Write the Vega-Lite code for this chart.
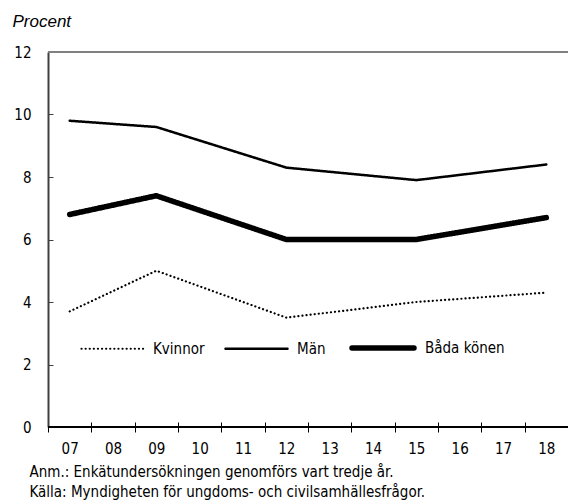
{
  "$schema": "https://vega.github.io/schema/vega-lite/v6.json",
  "width": 520,
  "height": 375,
  "autosize": "none",
  "padding": {"left": 48, "top": 52, "right": 0, "bottom": 77},
  "background": "white",
  "config": {
    "view": {"stroke": null},
    "font": "DejaVu Sans Condensed",
    "axis": {"labelFont": "DejaVu Sans Condensed", "titleFont": "DejaVu Sans Condensed", "labelColor": "black", "titleColor": "black", "grid": false},
    "legend": {"labelFont": "DejaVu Sans Condensed"}
  },
  "data": {
    "values": [
      {"year": "07", "serie": "Kvinnor", "value": 3.7},
      {"year": "09", "serie": "Kvinnor", "value": 5.0},
      {"year": "12", "serie": "Kvinnor", "value": 3.5},
      {"year": "15", "serie": "Kvinnor", "value": 4.0},
      {"year": "18", "serie": "Kvinnor", "value": 4.3},
      {"year": "07", "serie": "Män", "value": 9.8},
      {"year": "09", "serie": "Män", "value": 9.6},
      {"year": "12", "serie": "Män", "value": 8.3},
      {"year": "15", "serie": "Män", "value": 7.9},
      {"year": "18", "serie": "Män", "value": 8.4},
      {"year": "07", "serie": "Båda könen", "value": 6.8},
      {"year": "09", "serie": "Båda könen", "value": 7.4},
      {"year": "12", "serie": "Båda könen", "value": 6.0},
      {"year": "15", "serie": "Båda könen", "value": 6.0},
      {"year": "18", "serie": "Båda könen", "value": 6.7}
    ]
  },
  "layer": [
    {
      "mark": {"type": "rule", "color": "#808080", "strokeWidth": 2},
      "encoding": {"y": {"datum": 12, "type": "quantitative"}}
    },
    {
      "mark": {"type": "rule", "color": "black", "strokeWidth": 1.5},
      "encoding": {"y": {"datum": 0, "type": "quantitative"}}
    },
    {
      "mark": {"type": "line", "color": "black", "strokeCap": "round", "strokeJoin": "miter"},
      "encoding": {
        "x": {
          "field": "year",
          "type": "ordinal",
          "scale": {"type": "band", "domain": ["07","08","09","10","11","12","13","14","15","16","17","18"], "paddingInner": 0, "paddingOuter": 0},
          "axis": {
            "title": ["Anm.: Enkätundersökningen genomförs vart tredje år.", "Källa: Myndigheten för ungdoms- och civilsamhällesfrågor."],
            "titleFontSize": 15,
            "titleFontWeight": "normal",
            "titleAlign": "left",
            "titleAnchor": "start",
            "titleBaseline": "alphabetic",
            "titleX": -19,
            "titleY": 54,
            "titleLineHeight": 20,
            "offset": -5,
            "domain": false,
            "labelAngle": 0,
            "labelFontSize": 15,
            "labelPadding": 9,
            "tickBand": "extent",
            "tickSize": 10,
            "tickColor": "black",
            "tickWidth": 1
          }
        },
        "y": {
          "field": "value",
          "type": "quantitative",
          "scale": {"domain": [0, 12], "nice": false},
          "axis": {
            "values": [0, 2, 4, 6, 8, 10, 12],
            "title": "Procent",
            "titleFont": "Liberation Sans",
            "titleFontStyle": "italic",
            "titleFontWeight": "normal",
            "titleFontSize": 17,
            "titleAngle": 0,
            "titleAlign": "left",
            "titleBaseline": "alphabetic",
            "titleX": -36,
            "titleY": -26,
            "labelFontSize": 15,
            "labelPadding": 22,
            "tickSize": -5,
            "tickColor": "#404040",
            "domainColor": "#404040",
            "domainWidth": 2
          }
        },
        "strokeDash": {
          "field": "serie",
          "type": "nominal",
          "scale": {"domain": ["Kvinnor", "Män", "Båda könen"], "range": [[0.1, 4], [1, 0], [1, 0]]},
          "legend": {
            "title": null,
            "orient": "none",
            "direction": "horizontal",
            "legendX": 32,
            "legendY": 262,
            "padding": 0,
            "symbolType": "stroke",
            "symbolSize": 3844,
            "symbolStrokeColor": "black",
            "labelFontSize": 15,
            "labelColor": "black",
            "labelOffset": 8,
            "columnPadding": 15,
            "encode": {"symbols": {"update": {"strokeCap": {"value": "round"}}}}
          }
        },
        "strokeWidth": {
          "field": "serie",
          "type": "ordinal",
          "scale": {"type": "ordinal", "domain": ["Kvinnor", "Män", "Båda könen"], "range": [2.2, 2.5, 5.5]},
          "legend": {
            "title": null,
            "orient": "none",
            "direction": "horizontal",
            "legendX": 32,
            "legendY": 262,
            "padding": 0,
            "symbolType": "stroke",
            "symbolSize": 3844,
            "symbolStrokeColor": "black",
            "labelFontSize": 15,
            "labelColor": "black",
            "labelOffset": 8,
            "columnPadding": 15,
            "encode": {"symbols": {"update": {"strokeCap": {"value": "round"}}}}
          }
        }
      }
    }
  ]
}
